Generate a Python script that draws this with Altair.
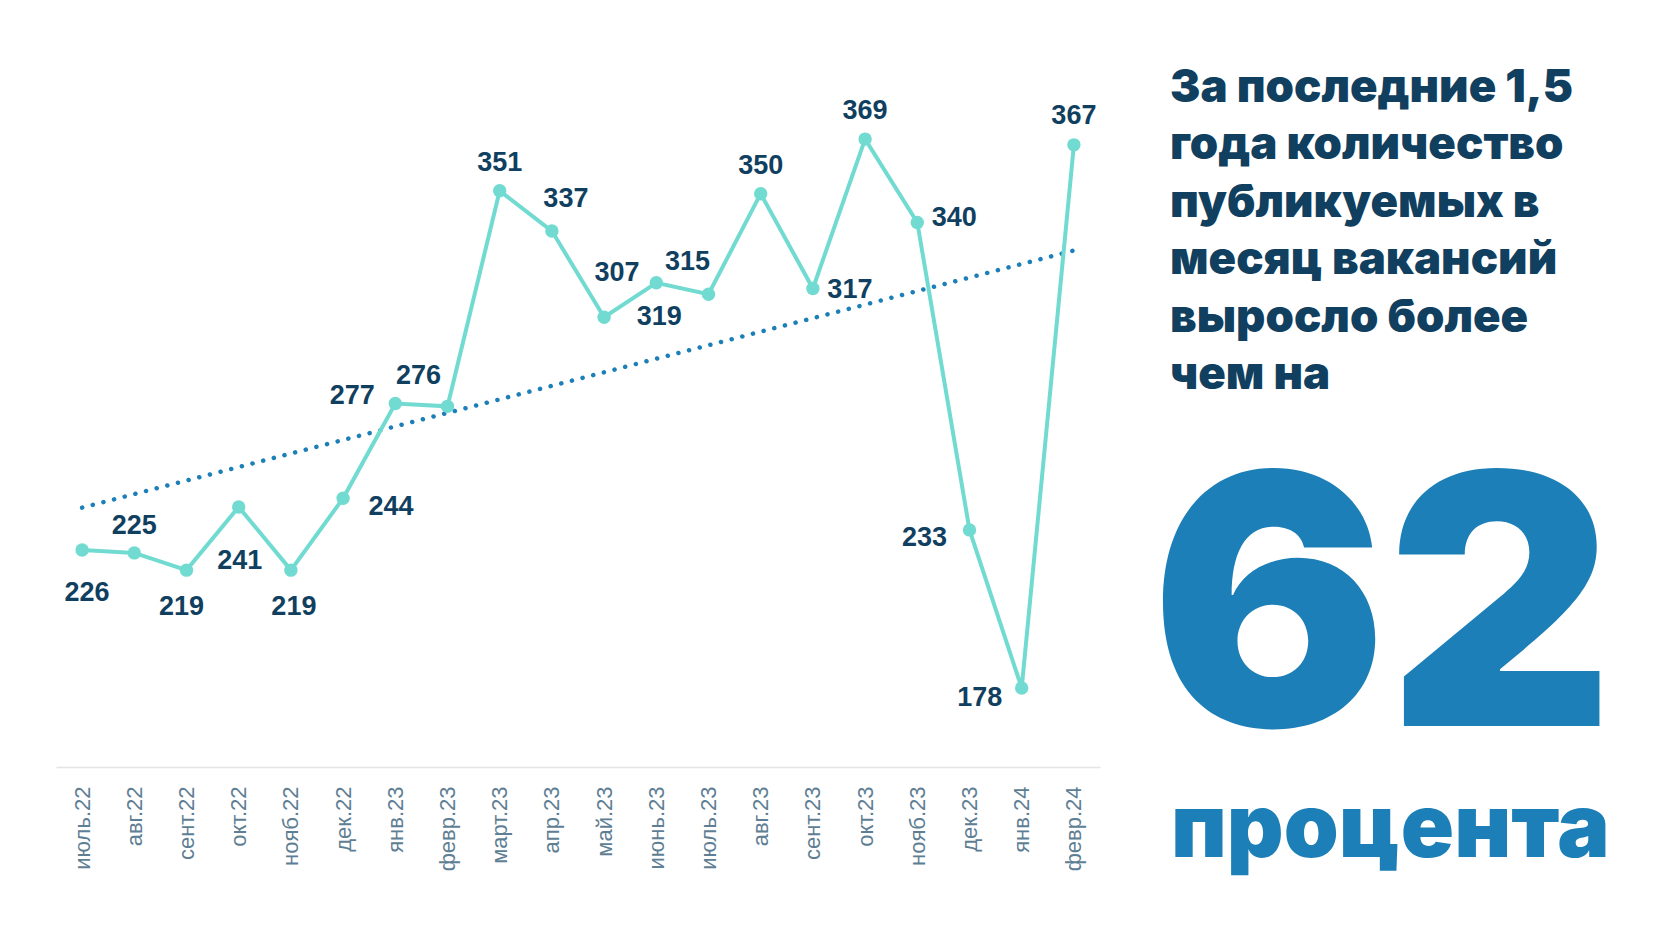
import altair as alt
import numpy as np
import pandas as pd

months = ["июль.22", "авг.22", "сент.22", "окт.22", "нояб.22", "дек.22",
          "янв.23", "февр.23", "март.23", "апр.23", "май.23", "июнь.23",
          "июль.23", "авг.23", "сент.23", "окт.23", "нояб.23", "дек.23",
          "янв.24", "февр.24"]
vacancies = [226, 225, 219, 241, 219, 244, 277, 276, 351, 337, 307, 319,
             315, 350, 317, 369, 340, 233, 178, 367]

# label placement offsets (pixels) relative to each point
label_dx = [5, 0, -5, 1, 3, 48, -43, -29, 0, 14, 13, 3, -21, 0, 37, 0, 37, -45, -42, 0]
label_dy = [43, -27, 37, 54, 37, 9, -7, -30, -28, -32, -44, 34, -32, -28, 1, -28, -4, 8, 10, -29]

headline = "За последние 1,5\nгода количество\nпубликуемых в\nмесяц вакансий\nвыросло более\nчем на"
big_number = "62"
big_unit = "процента"

idx = np.arange(len(vacancies))
slope, intercept = np.polyfit(idx, vacancies, 1)
trend = intercept + slope * idx

df = pd.DataFrame({"month": months, "value": vacancies, "trend": trend})

DARK = "#113f5f"
LINE = "#72dbd1"
BLUE = "#1c7fb7"

x_enc = alt.X("month:N", sort=months,
              axis=alt.Axis(title=None, labelAngle=-90, labelFontSize=22,
                            labelFont="Liberation Sans", labelColor="#5e7e93",
                            labelPadding=19, ticks=False, domainColor="#e4e4e4",
                            domainWidth=1.5, grid=False))
y_scale = alt.Scale(domain=[150.5, 400], nice=False, zero=False)
y_val = alt.Y("value:Q", scale=y_scale, axis=None)

base = alt.Chart(df)

trend_line = base.mark_line(color=BLUE, strokeWidth=4.5, strokeCap="round",
                            strokeDash=[0.1, 10.9]).encode(
    x=x_enc, y=alt.Y("trend:Q", scale=y_scale, axis=None))

line = base.mark_line(color=LINE, strokeWidth=4).encode(x=x_enc, y=y_val)

pts = base.mark_circle(color=LINE, size=180, opacity=1).encode(x=x_enc, y=y_val)

label_layers = []
for i, m in enumerate(months):
    label_layers.append(
        base.transform_filter(alt.datum.month == m).mark_text(
            font="Liberation Sans", fontWeight="bold", fontSize=27, color=DARK,
            align="center", baseline="middle", dx=label_dx[i], dy=label_dy[i]
        ).encode(x=x_enc, y=y_val, text="value:Q")
    )

head = alt.Chart(pd.DataFrame({"t": [headline]})).mark_text(
    font="Inter", fontWeight=900, fontSize=45.5, color=DARK, align="left",
    baseline="top", lineBreak="\n", lineHeight=57.4).encode(
    x=alt.value(1114), y=alt.value(16), text="t:N")

num = alt.Chart(pd.DataFrame({"t": [big_number]})).mark_text(
    font="Inter", fontWeight=900, fontSize=350, color=BLUE, align="left",
    baseline="alphabetic").encode(x=alt.value(1095), y=alt.value(676), text="t:N")

unit = alt.Chart(pd.DataFrame({"t": [big_unit]})).mark_text(
    font="Inter", fontWeight=900, fontSize=88, color=BLUE, align="left",
    baseline="alphabetic").encode(x=alt.value(1115), y=alt.value(807), text="t:N")

chart = alt.layer(trend_line, line, pts, *label_layers, head, num, unit).properties(
    width=1044, height=717,
    autosize=alt.AutoSizeParams(type="none"),
    padding={"left": 48, "top": 42, "right": 530, "bottom": 150},
    background="white",
).configure_view(stroke=None)

chart.save("out.html", embed_options={"renderer": "svg", "actions": False})
